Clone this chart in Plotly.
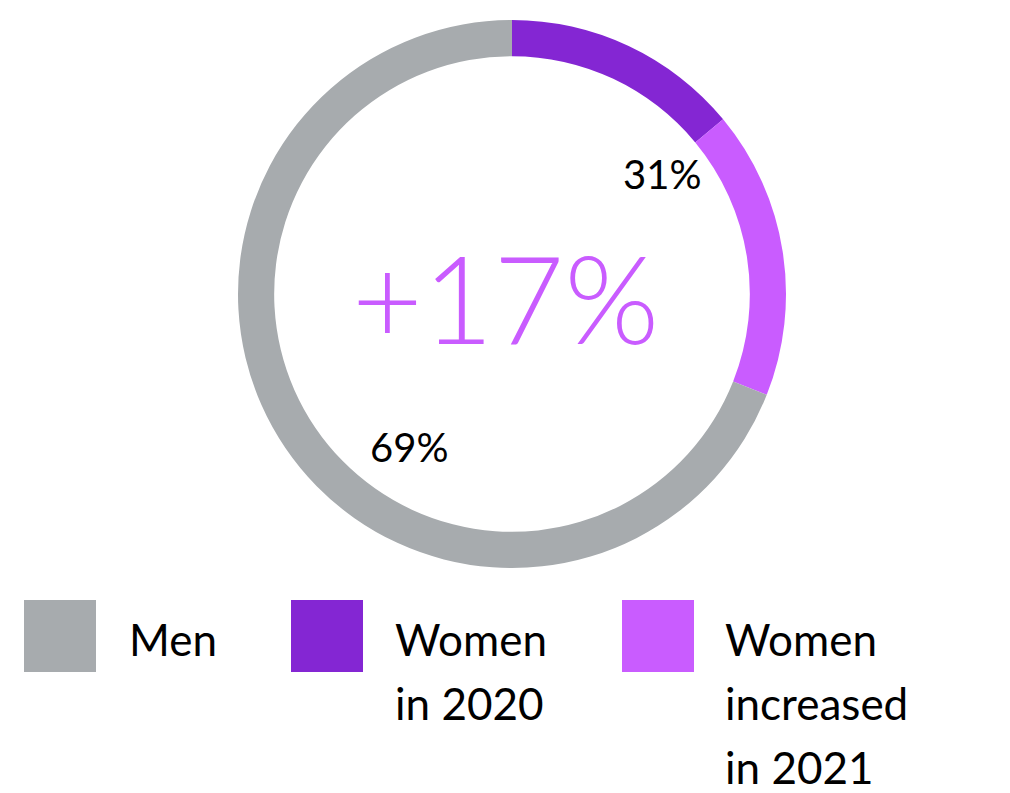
import plotly.graph_objects as go

# page body has an 8px margin, so the figure is drawn 8px smaller and offset
OFF = 8
W, H = 1010 - OFF, 793 - OFF

categories = ["Women in 2020", "Women increased in 2021", "Men"]
values = [14, 17, 69]
colors = ["#8426d3", "#c95cff", "#a7abae"]

legend_order = ["Men", "Women in 2020", "Women increased in 2021"]
legend_lines = {
    "Men": ["Men"],
    "Women in 2020": ["Women", "in 2020"],
    "Women increased in 2021": ["Women", "increased", "in 2021"],
}
center_label = "+17%"
women_label = "31%"
men_label = "69%"

def px(x):
    return (x - OFF) / W

def py(y):
    return 1 - (y - OFF) / H

cx, cy, R = 512, 294, 274

fig = go.Figure(go.Pie(
    labels=categories,
    values=values,
    marker=dict(colors=colors, line=dict(width=0)),
    hole=0.868,
    sort=False,
    direction="clockwise",
    rotation=0,
    textinfo="none",
    hoverinfo="label+percent",
    showlegend=False,
    domain=dict(x=[px(cx - R), px(cx + R)], y=[py(cy + R), py(cy - R)]),
))

font_family = "Lato, Inter, sans-serif"
ann = []
ann.append(dict(x=px(505), y=py(297), text=center_label, showarrow=False,
                font=dict(family=font_family, size=122, color="#c95cff", weight=300),
                xanchor="center", yanchor="middle"))
ann.append(dict(x=px(662), y=py(174), text=women_label, showarrow=False,
                font=dict(family=font_family, size=40, color="#000000", weight=400),
                xanchor="center", yanchor="middle"))
ann.append(dict(x=px(409), y=py(447), text=men_label, showarrow=False,
                font=dict(family=font_family, size=40, color="#000000", weight=400),
                xanchor="center", yanchor="middle"))

shapes = []
sq_x = [24, 291, 622]
txt_x = [127, 393, 723]
color_map = dict(zip(categories, colors))
for i, name in enumerate(legend_order):
    shapes.append(dict(type="rect", xref="paper", yref="paper",
                       x0=px(sq_x[i]), x1=px(sq_x[i] + 72),
                       y0=py(672), y1=py(600),
                       fillcolor=color_map[name], line=dict(width=0)))
    for j, line in enumerate(legend_lines[name]):
        ann.append(dict(x=px(txt_x[i]), y=py(639 + j * 64), text=line, showarrow=False,
                        font=dict(family=font_family, size=44, color="#000000", weight=400),
                        xanchor="left", yanchor="middle"))

fig.update_layout(
    width=W, height=H,
    margin=dict(l=0, r=0, t=0, b=0),
    paper_bgcolor="white", plot_bgcolor="white",
    annotations=ann, shapes=shapes,
)

fig.write_html("out.html")
